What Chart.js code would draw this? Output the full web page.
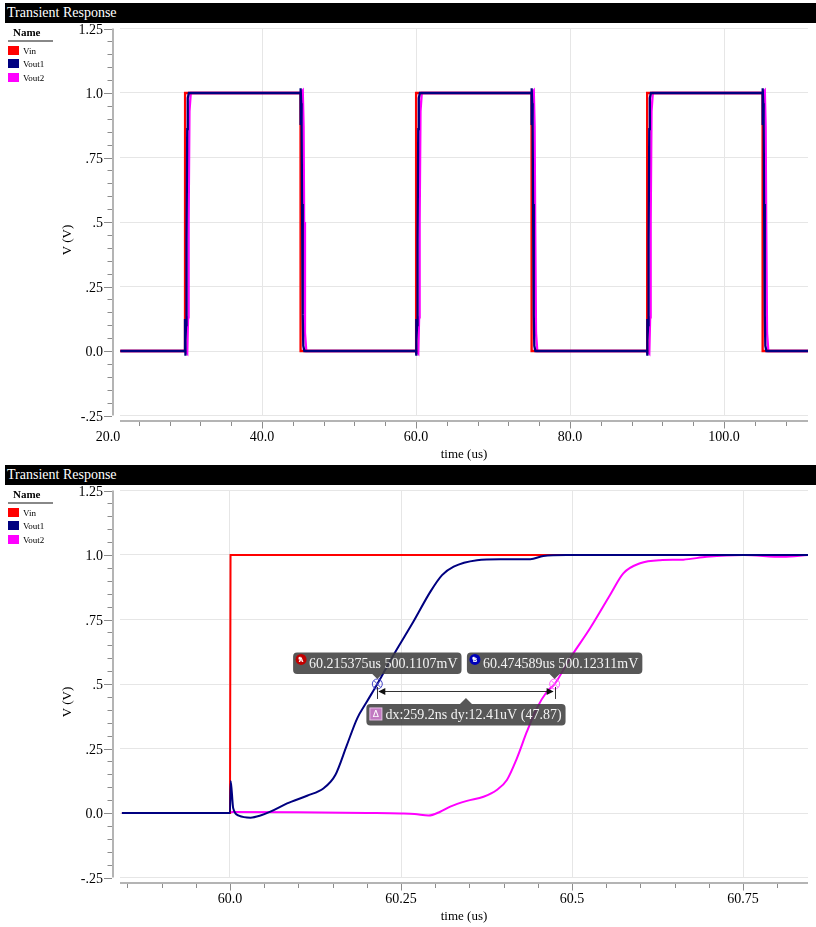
<!DOCTYPE html>
<html>
<head>
<meta charset="utf-8">
<script src="https://cdn.jsdelivr.net/npm/chart.js@4.4.0/dist/chart.umd.min.js"></script>
<style>
  body { margin: 0; background: #fff; width: 816px; height: 927px; position: relative; overflow: hidden;
         font-family: "Liberation Serif", "Times New Roman", serif; }
  .bar { position: absolute; left: 5px; width: 811px; height: 19.5px; background: #000; color: #fff;
         font-size: 14px; line-height: 20px; padding-left: 2px; box-sizing: border-box; z-index: 2; }
  .legend { position: absolute; left: 0; width: 60px; height: 50px; z-index: 2; }
  .legend .hd { position: absolute; left: 13px; top: 23px; font-size: 11px; font-weight: bold; }
  .legend .ul { position: absolute; left: 8px; top: 37px; width: 45px; height: 1.5px; background: #888; }
  .legend .sw { position: absolute; left: 8px; width: 11px; height: 9px; }
  .legend .nm { position: absolute; left: 23px; font-size: 9px; line-height: 9px; }
  canvas { position: absolute; left: 0; z-index: 1; }
</style>
</head>
<body>
<canvas id="top" width="816" height="462" style="top:0px"></canvas>
<div class="bar" style="top:3px">Transient Response</div>
<div class="legend" id="leg1" style="top:3px"></div>

<canvas id="bot" width="816" height="465" style="top:462px"></canvas>
<div class="bar" style="top:465px">Transient Response</div>
<div class="legend" id="leg2" style="top:465px"></div>

<script>
// series names / colours
const seriesNames = ['Vin', 'Vout1', 'Vout2'];
const seriesColors = ['#ff0000', '#000080', '#ff00ff'];

// top panel: time (us) / voltage (V)
const topVinT = [21.6, 30, 30.01, 45, 45.01, 60, 60.01, 75, 75.01, 90, 90.01, 105, 105.01, 110.9];
const topVinV = [0, 0, 1, 1, 0, 0, 1, 1, 0, 0, 1, 1, 0, 0];

const topV1T = [21.6,
  30, 30.002, 30.03, 30.09, 30.14, 30.2, 30.29, 30.36, 30.5,
  45, 45.002, 45.03, 45.09, 45.14, 45.2, 45.29, 45.36, 45.5,
  60, 60.002, 60.03, 60.09, 60.14, 60.2, 60.29, 60.36, 60.5,
  75, 75.002, 75.03, 75.09, 75.14, 75.2, 75.29, 75.36, 75.5,
  90, 90.002, 90.03, 90.09, 90.14, 90.2, 90.29, 90.36, 90.5,
  105, 105.002, 105.03, 105.09, 105.14, 105.2, 105.29, 105.36, 105.5,
  110.9];
const topV1V = [0,
  0, 0.124, -0.018, 0.04, 0.1, 0.43, 0.86, 0.98, 1.0,
  1.0, 0.876, 1.018, 0.96, 0.9, 0.57, 0.14, 0.02, 0,
  0, 0.124, -0.018, 0.04, 0.1, 0.43, 0.86, 0.98, 1.0,
  1.0, 0.876, 1.018, 0.96, 0.9, 0.57, 0.14, 0.02, 0,
  0, 0.124, -0.018, 0.04, 0.1, 0.43, 0.86, 0.98, 1.0,
  1.0, 0.876, 1.018, 0.96, 0.9, 0.57, 0.14, 0.02, 0,
  0];

const topV2T = [21.6,
  30, 30.29, 30.4, 30.47, 30.58, 30.75,
  45, 45.29, 45.4, 45.47, 45.58, 45.75,
  60, 60.29, 60.4, 60.47, 60.58, 60.75,
  75, 75.29, 75.4, 75.47, 75.58, 75.75,
  90, 90.29, 90.4, 90.47, 90.58, 90.75,
  105, 105.29, 105.4, 105.47, 105.58, 105.75,
  110.9];
const topV2V = [0,
  0, -0.01, 0.13, 0.5, 0.93, 1.0,
  1.0, 1.01, 0.87, 0.5, 0.07, 0,
  0, -0.01, 0.13, 0.5, 0.93, 1.0,
  1.0, 1.01, 0.87, 0.5, 0.07, 0,
  0, -0.01, 0.13, 0.5, 0.93, 1.0,
  1.0, 1.01, 0.87, 0.5, 0.07, 0,
  0];

// bottom panel (zoom on the 60us edge)
const botVinT = [59.842, 60.0, 60.0008, 60.845];
const botVinV = [0, 0, 1, 1];

const botV1T = [59.842, 60.0, 60.001, 60.0047, 60.0129, 60.030, 60.0445, 60.059, 60.0835, 60.1127,
  60.137, 60.154, 60.171, 60.186, 60.200, 60.2154, 60.239, 60.268, 60.293, 60.31, 60.327,
  60.361, 60.395, 60.439, 60.458, 60.492, 60.845];
const botV1V = [0, 0, 0.124, 0.018, -0.01, -0.018, -0.01, 0.005, 0.037, 0.067,
  0.096, 0.147, 0.264, 0.367, 0.431, 0.5, 0.612, 0.741, 0.858, 0.922, 0.955,
  0.98, 0.984, 0.984, 0.996, 1.0, 1.0];

const botV2T = [59.842, 60.0, 60.003, 60.1, 60.2, 60.25, 60.27, 60.2903, 60.3074, 60.322, 60.3464,
  60.3706, 60.390, 60.4048, 60.4194, 60.434, 60.4486, 60.4632, 60.4747, 60.4972, 60.5264,
  60.5556, 60.575, 60.5995, 60.6287, 60.6627, 60.6969, 60.7503, 60.8083, 60.845];
const botV2V = [0, 0, 0.004, 0.003, 0.0, -0.002, -0.004, -0.01, 0.005, 0.025, 0.047,
  0.063, 0.089, 0.128, 0.212, 0.315, 0.406, 0.47, 0.5, 0.6, 0.716,
  0.845, 0.929, 0.968, 0.98, 0.982, 0.993, 1.0, 0.993, 1.0];

// ticks
const yTickVals = [-0.25, 0, 0.25, 0.5, 0.75, 1.0, 1.25];
const yTickLabels = ['-.25', '0.0', '.25', '.5', '.75', '1.0', '1.25'];
const topXTickVals = [20, 40, 60, 80, 100];
const topXTickLabels = ['20.0', '40.0', '60.0', '80.0', '100.0'];
const botXTickVals = [60.0, 60.25, 60.5, 60.75];
const botXTickLabels = ['60.0', '60.25', '60.5', '60.75'];

// cursors
const cursorA = [60.215375, 0.5001107];
const cursorB = [60.474589, 0.50012311];
const cursorALabel = '60.215375us 500.1107mV';
const cursorBLabel = '60.474589us 500.12311mV';
const deltaLabel = 'dx:259.2ns dy:12.41uV (47.87)';

const FONT = '"Liberation Serif", "Times New Roman", serif';
const gridCol = '#e6e6e6';

// legends
['leg1', 'leg2'].forEach(id => {
  let h = '<div class="hd">Name</div><div class="ul"></div>';
  seriesNames.forEach((n, i) => {
    const t = 43 + i * 13.4;
    h += `<div class="sw" style="top:${t}px;background:${seriesColors[i]}"></div>`;
    h += `<div class="nm" style="top:${t + 1}px">${n}</div>`;
  });
  document.getElementById(id).innerHTML = h;
});

function pts(ts, vs) { return ts.map((t, i) => ({ x: t, y: vs[i] })); }

// offset axis lines, minor ticks and y title
const axisDecor = {
  id: 'axisDecor',
  afterDraw(chart, args, o) {
    const { ctx, chartArea: a, scales: { x, y } } = chart;
    const ax = a.left - 7, ay = a.bottom + 5.5;
    ctx.save();
    ctx.strokeStyle = '#b4b4b4';
    ctx.lineWidth = 2;
    ctx.beginPath();
    ctx.moveTo(ax, a.top); ctx.lineTo(ax, a.bottom);
    ctx.moveTo(a.left, ay); ctx.lineTo(a.right, ay);
    ctx.stroke();

    ctx.strokeStyle = '#8c8c8c';
    ctx.lineWidth = 1;
    ctx.beginPath();
    for (let k = 0; k <= 30; k++) {
      const py = Math.round(y.getPixelForValue(-0.25 + 0.05 * k)) + 0.5;
      const len = k % 5 === 0 ? 8 : 4.5;
      ctx.moveTo(ax - 1 - len, py); ctx.lineTo(ax - 1, py);
    }
    for (let k = 0; k < o.n; k++) {
      const v = o.start + o.step * k;
      const major = o.major.some(m => Math.abs(m - v) < o.step / 10);
      const px = Math.round(x.getPixelForValue(v)) + 0.5;
      ctx.moveTo(px, ay + 1); ctx.lineTo(px, ay + 1 + (major ? 6.5 : 4));
    }
    ctx.stroke();

    ctx.fillStyle = '#000';
    ctx.font = '13px ' + FONT;
    ctx.textAlign = 'center';
    ctx.textBaseline = 'middle';
    ctx.translate(68, (a.top + a.bottom) / 2 + 18);
    ctx.rotate(-Math.PI / 2);
    ctx.fillText('V (V)', 0, 0);
    ctx.restore();
  }
};

function roundBox(ctx, l, t, w, h, r) {
  ctx.moveTo(l + r, t);
  ctx.arcTo(l + w, t, l + w, t + h, r);
  ctx.arcTo(l + w, t + h, l, t + h, r);
  ctx.arcTo(l, t + h, l, t, r);
  ctx.arcTo(l, t, l + w, t, r);
  ctx.closePath();
}

function marker(ctx, px, py, col) {
  ctx.strokeStyle = col;
  ctx.lineWidth = 1;
  ctx.beginPath(); ctx.arc(px, py, 5, 0, Math.PI * 2); ctx.stroke();
  ctx.beginPath();
  ctx.moveTo(px - 3.5, py - 3.5); ctx.lineTo(px + 3.5, py + 3.5);
  ctx.moveTo(px + 3.5, py - 3.5); ctx.lineTo(px - 3.5, py + 3.5);
  ctx.stroke();
}

function tag(ctx, cx, top, text, kind, iconCol, up) {
  ctx.font = '14px ' + FONT;
  const tw = ctx.measureText(text).width;
  const pad = kind === 'delta' ? 19 : 16;
  const w = tw + pad + 4, h = 21.5, l = cx - w / 2;
  ctx.fillStyle = 'rgba(64,64,64,0.88)';
  ctx.beginPath();
  roundBox(ctx, l, top, w, h, 4);
  if (up) { ctx.moveTo(cx - 6, top); ctx.lineTo(cx, top - 6); ctx.lineTo(cx + 6, top); }
  else { ctx.moveTo(cx - 5, top + h); ctx.lineTo(cx, top + h + 5); ctx.lineTo(cx + 5, top + h); }
  ctx.fill();
  if (kind === 'delta') {
    ctx.fillStyle = '#c27ac2';
    ctx.strokeStyle = '#e8c0e8';
    ctx.fillRect(l + 3.5, top + 4, 12, 12);
    ctx.strokeRect(l + 3.5, top + 4, 12, 12);
    ctx.fillStyle = '#fff';
    ctx.font = '9px "DejaVu Sans", sans-serif';
    ctx.textAlign = 'center';
    ctx.fillText('\u0394', l + 9.5, top + 13.5);
  } else {
    const g = ctx.createRadialGradient(l + 6.5, top + 5.5, 0.5, l + 8, top + 7, 5.5);
    g.addColorStop(0, '#ffffff');
    g.addColorStop(0.35, iconCol);
    g.addColorStop(1, iconCol);
    ctx.fillStyle = g;
    ctx.beginPath(); ctx.arc(l + 8, top + 7, 5.5, 0, Math.PI * 2); ctx.fill();
    ctx.fillStyle = '#fff';
    ctx.font = 'bold 6px "DejaVu Sans", sans-serif';
    ctx.textAlign = 'center';
    ctx.fillText(kind, l + 8, top + 9.2);
  }
  ctx.fillStyle = '#f4f4f4';
  ctx.font = '14px ' + FONT;
  ctx.textAlign = 'left';
  ctx.fillText(text, l + pad, top + 15.5);
}

const cursors = {
  id: 'cursors',
  afterDatasetsDraw(chart) {
    const { ctx, scales: { x, y } } = chart;
    const ax = x.getPixelForValue(cursorA[0]), ay = y.getPixelForValue(cursorA[1]);
    const bx = x.getPixelForValue(cursorB[0]), by = y.getPixelForValue(cursorB[1]);
    ctx.save();
    ctx.textBaseline = 'alphabetic';
    marker(ctx, ax, ay, '#4848c8');
    marker(ctx, bx, by, '#ff66ff');

    const ly = ay + 7.5;
    ctx.strokeStyle = '#333';
    ctx.lineWidth = 1;
    ctx.beginPath();
    ctx.moveTo(Math.round(ax) + 0.5, ay + 3); ctx.lineTo(Math.round(ax) + 0.5, ay + 15);
    ctx.moveTo(Math.round(bx) + 0.5, by + 3); ctx.lineTo(Math.round(bx) + 0.5, by + 15);
    ctx.moveTo(ax + 2, Math.round(ly) + 0.5); ctx.lineTo(bx - 2, Math.round(ly) + 0.5);
    ctx.stroke();
    ctx.fillStyle = '#111';
    ctx.beginPath();
    ctx.moveTo(ax + 1, ly); ctx.lineTo(ax + 8, ly - 3.5); ctx.lineTo(ax + 8, ly + 3.5); ctx.closePath();
    ctx.moveTo(bx - 1, ly); ctx.lineTo(bx - 8, ly - 3.5); ctx.lineTo(bx - 8, ly + 3.5); ctx.closePath();
    ctx.fill();

    tag(ctx, ax, ay - 31.5, cursorALabel, 'A', '#c00000', false);
    tag(ctx, bx, by - 31.5, cursorBLabel, 'B', '#0000b8', false);
    tag(ctx, (ax + bx) / 2, ay + 20, deltaLabel, 'delta', null, true);
    ctx.restore();
  }
};

function noPad(sc) { sc.paddingTop = 0; sc.paddingBottom = 0; sc.paddingLeft = 0; sc.paddingRight = 0; }

function makeChart(id, sets, xr, xTicks, xLabels, minor, xAxisH, titlePad, bw, extra) {
  const font = { family: FONT, size: 14 };
  return new Chart(document.getElementById(id), {
    type: 'line',
    data: {
      datasets: sets.map((s, i) => ({
        label: seriesNames[i],
        data: pts(s[0], s[1]),
        borderColor: seriesColors[i],
        backgroundColor: seriesColors[i],
        borderWidth: bw,
        pointRadius: 0,
        tension: 0,
        cubicInterpolationMode: s[2] ? 'monotone' : 'default',
        fill: false,
        order: [1, 0, 2][i]
      }))
    },
    options: {
      responsive: false,
      animation: false,
      devicePixelRatio: 1,
      layout: { padding: { top: 28.5, right: 8, left: 0, bottom: 0 } },
      plugins: { legend: { display: false }, tooltip: { enabled: false }, axisDecor: minor },
      scales: {
        x: {
          type: 'linear', min: xr[0], max: xr[1],
          afterBuildTicks: sc => { sc.ticks = xTicks.map(v => ({ value: v })); },
          afterFit: sc => { sc.height = xAxisH; noPad(sc); },
          ticks: { callback: (v, i) => xLabels[i], autoSkip: false, maxRotation: 0, padding: 13.5, color: '#000', font },
          grid: { color: c => (c.tick && c.tick.value < xr[0]) ? 'rgba(0,0,0,0)' : gridCol, drawTicks: false },
          border: { display: false },
          title: { display: true, text: 'time (us)', color: '#000', font: { family: FONT, size: 13 }, padding: { top: 0, bottom: titlePad } }
        },
        y: {
          min: -0.25, max: 1.25,
          afterBuildTicks: sc => { sc.ticks = yTickVals.map(v => ({ value: v })); },
          afterFit: sc => { sc.width = 120; noPad(sc); },
          ticks: { callback: (v, i) => yTickLabels[i], autoSkip: false, padding: 17, labelOffset: 1.5, color: '#000', font },
          grid: { color: gridCol, drawTicks: false },
          border: { display: false }
        }
      }
    },
    plugins: [axisDecor].concat(extra)
  });
}

makeChart('top',
  [[topVinT, topVinV], [topV1T, topV1V], [topV2T, topV2V]],
  [21.56, 110.9], topXTickVals, topXTickLabels,
  { start: 24, step: 4, n: 22, major: topXTickVals },
  46.5, 0, 2.3, []);

makeChart('bot',
  [[botVinT, botVinV], [botV1T, botV1V, true], [botV2T, botV2V, true]],
  [59.8392, 60.845], botXTickVals, botXTickLabels,
  { start: 59.85, step: 0.05, n: 20, major: botXTickVals },
  49.5, 2.2, 2, [cursors]);
</script>
</body>
</html>
